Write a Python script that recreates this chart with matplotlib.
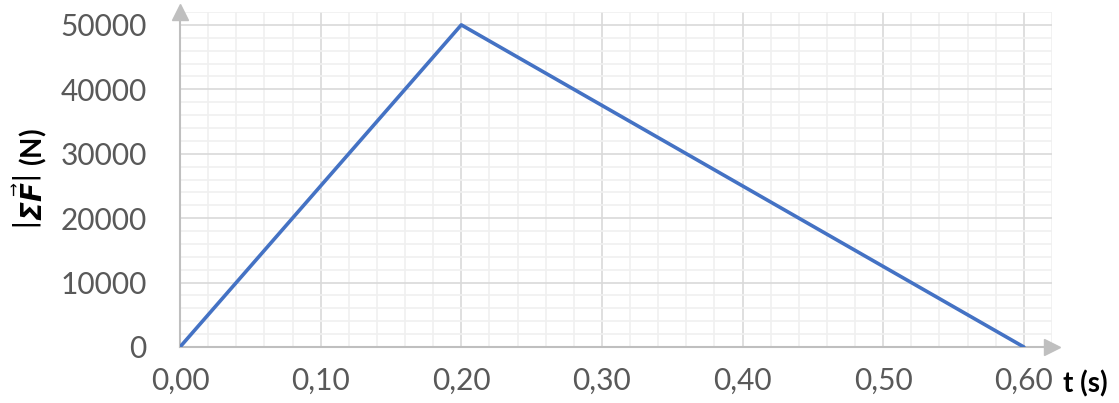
import numpy as np
import matplotlib.pyplot as plt
from matplotlib.ticker import MultipleLocator, FuncFormatter

# data
t = [0.0, 0.2, 0.6]
force = [0, 50000, 0]

x_ticks = [0.0, 0.1, 0.2, 0.3, 0.4, 0.5, 0.6]
y_ticks = [0, 10000, 20000, 30000, 40000, 50000]

plt.rcParams['font.family'] = ['Lato', 'DejaVu Sans']

fig = plt.figure(figsize=(11.19, 4.03), dpi=100)
ax = fig.add_axes([180 / 1119, 1 - 347 / 403, 872 / 1119, 335 / 403])

ax.plot(t, force, color='#4472C4', linewidth=2.6, zorder=3, solid_capstyle='round')

ax.set_xlim(0, 0.62)
ax.set_ylim(0, 52000)
ax.set_xticks(x_ticks)
ax.set_yticks(y_ticks)
ax.xaxis.set_minor_locator(MultipleLocator(0.02))
ax.yaxis.set_minor_locator(MultipleLocator(2000))
ax.xaxis.set_major_formatter(FuncFormatter(lambda v, p: f'{v:.2f}'.replace('.', ',')))

ax.grid(which='major', color='#d9d9d9', linewidth=1.2)
ax.grid(which='minor', color='#f0f0f0', linewidth=1.2)
ax.set_axisbelow(True)

for s in ['top', 'right']:
    ax.spines[s].set_visible(False)
for s in ['left', 'bottom']:
    ax.spines[s].set_color('#bfbfbf')
    ax.spines[s].set_linewidth(1.5)

ax.tick_params(which='both', length=0, labelsize=21.5, labelcolor='#595959')
ax.tick_params(axis='x', pad=14)
ax.tick_params(axis='y', pad=24)

# arrow heads on the axes
ax.plot(0.62, 0, '>', color='#bfbfbf', markersize=11, clip_on=False)
ax.plot(0, 52000, '^', color='#bfbfbf', markersize=11, clip_on=False)

ax.set_ylabel(r'$\left|\mathbfit{\Sigma}\vec{\mathbfit{F}}\right|$ (N)', fontsize=20,
              fontweight='bold', labelpad=8)
fig.text(1063 / 1119, 1 - 392 / 403, 't (s)', fontsize=20, fontweight='bold', va='baseline')

fig.savefig('out.png', dpi=100)
